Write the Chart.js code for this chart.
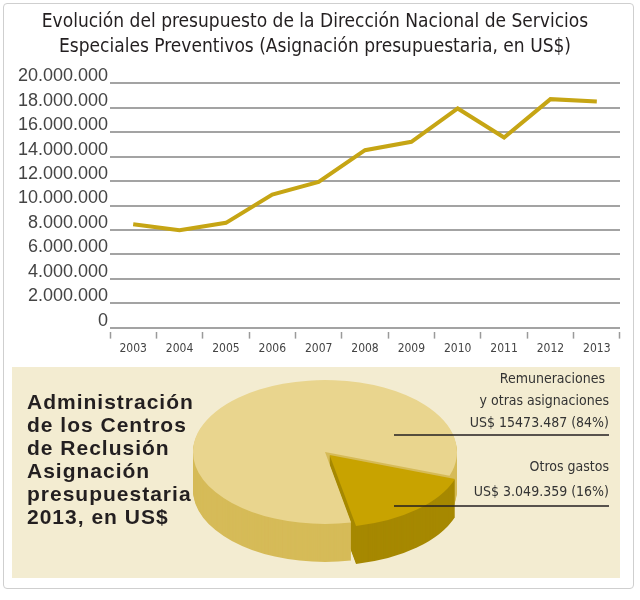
<!DOCTYPE html>
<html>
<head>
<meta charset="utf-8">
<script src="https://cdn.jsdelivr.net/npm/chart.js@4/dist/chart.umd.min.js"></script>
<style>
  body { margin: 0; background: #fff; }
  #wrap { position: relative; width: 640px; height: 600px; }
  #frame { position: absolute; left: 3px; top: 3px; width: 629px; height: 584px; border: 1px solid #cfcfcf; border-radius: 4px; }
  #panel { position: absolute; left: 12px; top: 367px; width: 608px; height: 211px; background: #f3ecd1; }
  #lineChart { position: absolute; left: 0; top: 0; }
  #pieChart { position: absolute; left: 12px; top: 367px; }
  #pieTitle {
    position: absolute; left: 27px; top: 390px;
    font: bold 21px "Liberation Sans", Arial, sans-serif;
    letter-spacing: 1px; line-height: 23px; color: #231f20;
  }
</style>
</head>
<body>
<div id="wrap">
  <div id="frame"></div>
  <div id="panel"></div>
  <canvas id="lineChart" width="640" height="362"></canvas>
  <canvas id="pieChart" width="608" height="211"></canvas>
  <div id="pieTitle">Administración<br>de los Centros<br>de Reclusión<br>Asignación<br>presupuestaria<br>2013, en US$</div>
</div>
<script>
const narrow = '"Liberation Sans Narrow", "DejaVu Sans Condensed", sans-serif';

const titleLines = [
  "Evolución del presupuesto de la Dirección Nacional de Servicios",
  "Especiales Preventivos (Asignación presupuestaria, en US$)",
];
const years = ["2003", "2004", "2005", "2006", "2007", "2008", "2009", "2010", "2011", "2012", "2013"];
const budget = [8470000, 7970000, 8580000, 10900000, 11940000, 14530000, 15220000, 17950000, 15570000, 18710000, 18522846];
const yTickValues = [0, 2000000, 4000000, 6000000, 8000000, 10000000, 12000000, 14000000, 16000000, 18000000, 20000000];

const pieLabels = ["Remuneraciones y otras asignaciones", "Otros gastos"];
const pieValues = [15473487, 3049359];
const pieTexts = [
  ["Remuneraciones ", "y otras asignaciones", "US$ 15473.487 (84%)"],
  ["Otros gastos", "US$ 3.049.359 (16%)"],
];
const pieTop = ["#e9d58e", "#c8a300"];
const pieSide = ["#d6bb58", "#a68800"];

function fmt(v) {
  return v.toString().replace(/\B(?=(\d{3})+(?!\d))/g, ".");
}

new Chart(document.getElementById("lineChart"), {
  type: "line",
  data: {
    labels: years,
    datasets: [
      {
        label: "Presupuesto",
        data: budget,
        borderColor: "#c6a514",
        borderWidth: 4,
        pointRadius: 0,
        tension: 0,
      },
    ],
  },
  options: {
    responsive: false,
    animation: false,
    layout: { padding: { left: 10, right: 20, bottom: 3 } },
    plugins: {
      legend: { display: false },
      tooltip: { enabled: false },
      title: {
        display: true,
        text: titleLines,
        color: "#231f20",
        font: { family: narrow, size: 19, weight: "normal", lineHeight: 1.3 },
        padding: { top: 10, bottom: 24 },
      },
    },
    scales: {
      x: {
        offset: true,
        border: { display: false },
        grid: {
          offset: true,
          drawOnChartArea: false,
          tickLength: 11,
          tickColor: "#9a9a9a",
          tickWidth: 1.5,
          tickBorderDash: [7, 4],
          tickBorderDashOffset: 7,
        },
        ticks: {
          color: "#444",
          font: { family: narrow, size: 12 },
          padding: 3,
          maxRotation: 0,
          autoSkip: false,
        },
      },
      y: {
        min: 0,
        max: 20000000,
        border: { display: false },
        afterBuildTicks: (scale) => {
          scale.ticks = yTickValues.map((v) => ({ value: v }));
        },
        afterFit: (scale) => {
          scale.width = 100;
        },
        grid: { color: "#a3a3a3", lineWidth: 2, drawTicks: false },
        ticks: {
          color: "#444",
          font: { family: '"Liberation Sans", Arial, sans-serif', size: 18 },
          padding: 2,
          labelOffset: -7,
          autoSkip: false,
          callback: (v) => fmt(v),
        },
      },
    },
  },
});

const tilt = 0.545;
const depth = 38;

const pie3d = {
  id: "pie3d",
  beforeDatasetsDraw(chart) {
    const ctx = chart.ctx;
    const arcs = chart.getDatasetMeta(0).data;
    const cx = arcs[0].x;
    const cy = arcs[0].y;
    for (let d = depth; d > 0; d--) {
      ctx.save();
      ctx.translate(cx, cy + d);
      ctx.scale(1, tilt);
      ctx.translate(-cx, -cy);
      arcs.forEach((arc, i) => {
        const o = arc.options;
        arc.options = Object.assign({}, o, { backgroundColor: pieSide[i], borderWidth: 0 });
        arc.draw(ctx);
        arc.options = o;
      });
      ctx.restore();
    }
    ctx.save();
    ctx.translate(cx, cy);
    ctx.scale(1, tilt);
    ctx.translate(-cx, -cy);
  },
  afterDatasetsDraw(chart) {
    const ctx = chart.ctx;
    ctx.restore();
    const arcs = chart.getDatasetMeta(0).data;
    const cx = arcs[0].x;
    const cy = arcs[0].y;
    const right = 597;
    // label leader lines
    ctx.save();
    ctx.strokeStyle = "#231f20";
    ctx.lineWidth = 1.5;
    [cy - 17, cy + 54].forEach((y) => {
      ctx.beginPath();
      ctx.moveTo(cx + 69, y);
      ctx.lineTo(right, y);
      ctx.stroke();
    });
    ctx.fillStyle = "#333";
    ctx.font = "14px " + narrow;
    ctx.textAlign = "right";
    ctx.textBaseline = "middle";
    pieTexts[0].forEach((t, i) => ctx.fillText(t, right, 12 + i * 22));
    pieTexts[1].forEach((t, i) => ctx.fillText(t, right, 100 + i * 25));
    ctx.restore();
  },
};

new Chart(document.getElementById("pieChart"), {
  type: "pie",
  data: {
    labels: pieLabels,
    datasets: [
      {
        data: pieValues,
        backgroundColor: pieTop,
        borderWidth: 0,
        offset: [0, 28],
        clip: false,
      },
    ],
  },
  options: {
    responsive: false,
    animation: false,
    radius: 132,
    rotation: 168.6,
    layout: { padding: { left: 18, right: 0, top: 0, bottom: 41 } },
    plugins: {
      legend: { display: false },
      tooltip: { enabled: false },
    },
  },
  plugins: [pie3d],
});
</script>
</body>
</html>
